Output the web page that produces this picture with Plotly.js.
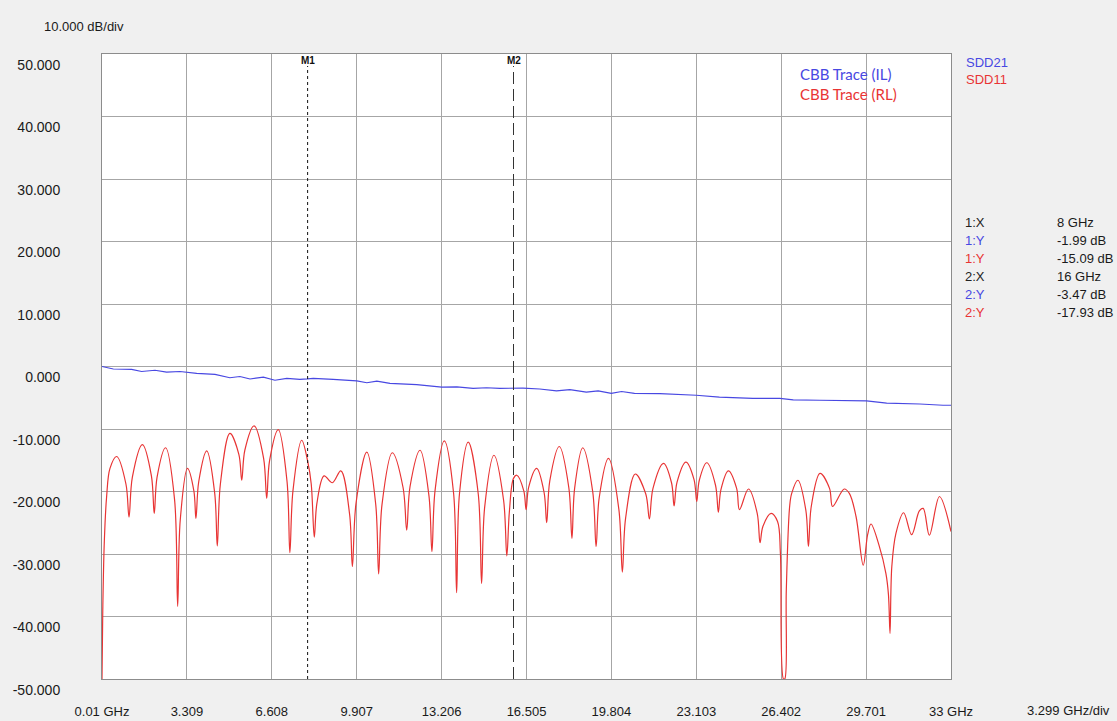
<!DOCTYPE html>
<html>
<head>
<meta charset="utf-8">
<script src="https://cdn.plot.ly/plotly-3.0.1.min.js"></script>
<style>
html,body{margin:0;padding:0;background:#f0f0f0;}
#chart{width:1117px;height:721px;}
</style>
</head>
<body>
<div id="chart"></div>
<script>
// ---- data ----
var xTickVals = [0.01, 3.309, 6.608, 9.907, 13.206, 16.505, 19.804, 23.103, 26.402, 29.701, 33];
var xTickText = ['0.01 GHz', '3.309', '6.608', '9.907', '13.206', '16.505', '19.804', '23.103', '26.402', '29.701', '33 GHz'];
var yTickVals = [50, 40, 30, 20, 10, 0, -10, -20, -30, -40, -50];
var yTickText = ['50.000', '40.000', '30.000', '20.000', '10.000', '0.000', '-10.000', '-20.000', '-30.000', '-40.000', '-50.000'];

// SDD21 (insertion loss)
var ilFreq = [0.01,0.45,1.16,1.55,2.07,2.52,3.04,3.69,4.40,4.98,5.37,5.76,6.28,6.73,7.19,7.70,8.00,8.22,8.99,9.91,10.30,10.69,11.2,12.24,13.21,13.8,14.43,14.95,15.47,16.00,16.37,17.02,17.67,18.19,18.83,19.29,19.8,20.2,20.7,21.69,22.46,23.1,24.0,25.3,26.35,26.87,27.9,28.81,29.72,30.5,31.14,31.79,32.69,33.0];
var ilDb = [0.0,-0.4,-0.45,-0.8,-0.6,-0.9,-0.8,-1.1,-1.25,-1.8,-1.6,-2.0,-1.7,-2.2,-1.9,-2.05,-1.99,-1.9,-2.05,-2.3,-2.6,-2.35,-2.7,-2.9,-3.3,-3.25,-3.5,-3.4,-3.5,-3.47,-3.45,-3.6,-3.9,-3.7,-4.1,-3.9,-4.3,-4.0,-4.3,-4.35,-4.45,-4.6,-4.9,-5.1,-5.1,-5.35,-5.4,-5.5,-5.5,-5.85,-5.9,-6.0,-6.2,-6.2];

// SDD11 (return loss)
var rlFreq = [0.01,0.04,0.10,0.19,0.32,0.58,
0.94,1.06,1.19,1.58,
1.93,2.04,2.15,2.48,
2.83,2.95,3.05,3.33,
3.58,3.66,3.77,4.08,
4.39,4.49,4.61,4.98,
5.33,5.44,5.56,5.92,
6.29,6.41,6.52,6.86,
7.20,7.31,7.43,7.77,
8.00,8.14,8.26,8.36,8.64,
8.96,9.29,
9.63,9.74,9.88,10.30,
10.645,10.76,10.89,11.29,
11.71,11.85,11.98,12.37,
12.715,12.83,12.95,13.31,
13.67,13.79,13.90,14.24,
14.63,14.76,14.88,15.24,
15.615,15.74,15.84,16.00,16.13,
16.40,16.49,16.59,16.90,
17.19,17.29,17.41,17.78,
18.15,18.27,18.375,18.69,
19.08,19.21,19.33,19.69,
20.095,20.23,20.355,20.73,
21.14,21.28,21.42,21.83,
22.14,22.24,22.355,22.70,
23.015,23.12,23.22,23.51,
23.85,23.96,24.06,24.35,
24.67,24.78,25.13,
25.47,25.58,25.69,26.01,
26.26,26.37,26.49,26.54,26.60,26.73,26.81,27.05,
27.36,27.46,27.57,27.91,
28.28,28.40,28.85,
29.05,29.31,29.59,29.76,29.89,30.21,30.47,30.57,30.63,30.70,30.86,31.16,
31.47,31.77,31.92,32.16,32.55,33.0];
var rlDb = [-50,-39,-28,-20.8,-16.3,-14.4,
-18.8,-24.1,-17.7,-12.5,
-17.5,-23.5,-17.7,-13.0,
-21.3,-38.4,-24.6,-16.3,
-19.9,-24.3,-18.4,-13.5,
-20.3,-28.7,-18.8,-10.7,
-14.1,-18.2,-13.4,-9.5,
-14.7,-21.1,-15.1,-10.1,
-18.4,-29.8,-19.9,-11.8,
-15.1,-18.8,-27.3,-21.9,-17.5,
-18.6,-16.7,
-23.6,-32.0,-21.9,-13.7,
-22.0,-33.2,-22.1,-13.8,
-19.4,-26.2,-19.2,-13.4,
-20.7,-29.6,-19.9,-11.9,
-20.2,-36.2,-20.4,-12.1,
-20.4,-34.7,-22.5,-14.2,
-21.4,-30.3,-23.2,-17.9,-17.4,
-19.9,-22.9,-19.3,-16.3,
-20.2,-25.0,-18.3,-12.8,
-19.4,-27.5,-19.5,-13.0,
-20.1,-28.8,-21.0,-14.7,
-22.9,-32.9,-24.3,-17.2,
-20.4,-24.4,-19.5,-15.5,
-18.6,-22.3,-18.5,-15.3,
-18.1,-21.6,-18.2,-15.4,
-19.0,-23.3,-19.7,-16.7,
-19.5,-22.9,-19.6,
-23.5,-28.2,-25.6,-23.5,
-24.8,-29.8,-50,-50,-35.8,-22.4,-20.3,-18.2,
-23.0,-28.8,-22.4,-17.1,
-19.5,-22.4,-19.6,
-20.3,-24.0,-31.8,-26.9,-25.2,-28.7,-33.1,-36.5,-42.7,-32.0,-26.7,-23.4,
-26.9,-23.1,-22.7,-27.0,-20.8,-26.4];

// markers
var markerNames = ['M1', 'M2'];
var markerFreq = [8, 16];
var readLabels = ['1:X', '1:Y', '1:Y', '2:X', '2:Y', '2:Y'];
var readValues = ['8 GHz', '-1.99 dB', '-15.09 dB', '16 GHz', '-3.47 dB', '-17.93 dB'];
var traceNames = ['SDD21', 'SDD11'];
var legendNames = ['CBB Trace (IL)', 'CBB Trace (RL)'];

// ---- styles / layout ----
var BLUE = 'rgb(72,72,226)';
var RED = 'rgb(232,52,52)';
var readColors = ['#222', BLUE, RED, '#222', BLUE, RED];
var L = 102, R = 951, T = 54, B = 679;
function px(x) { return (x - L) / (R - L); }
function py(y) { return (B - y) / (B - T); }
var baseFont = {family: 'Liberation Sans, Arial, sans-serif', size: 13, color: '#1a1a1a'};
var yFont = {family: 'Liberation Sans, Arial, sans-serif', size: 14, color: '#1a1a1a'};

var traces = [
  {x: ilFreq, y: ilDb, type: 'scatter', mode: 'lines', name: traceNames[0],
   line: {color: BLUE, width: 1.2}, hoverinfo: 'skip'},
  {x: rlFreq, y: rlDb, type: 'scatter', mode: 'lines', name: traceNames[1],
   line: {color: RED, width: 1.2, shape: 'spline', smoothing: 1}, hoverinfo: 'skip'}
];

var annotations = [];
annotations.push({xref: 'paper', yref: 'paper', x: px(42), y: py(26), xanchor: 'left', yanchor: 'middle',
  text: '10.000 dB/div', showarrow: false, font: baseFont});
annotations.push({xref: 'paper', yref: 'paper', x: px(1112), y: py(710), xanchor: 'right', yanchor: 'middle',
  text: '3.299 GHz/div', showarrow: false, font: baseFont});
// trace names at right
annotations.push({xref: 'paper', yref: 'paper', x: px(964), y: py(63), xanchor: 'left', yanchor: 'middle',
  text: traceNames[0], showarrow: false, font: {family: baseFont.family, size: 13, color: BLUE}});
annotations.push({xref: 'paper', yref: 'paper', x: px(964), y: py(79), xanchor: 'left', yanchor: 'middle',
  text: traceNames[1], showarrow: false, font: {family: baseFont.family, size: 13, color: RED}});
// legend inside plot
annotations.push({xref: 'paper', yref: 'paper', x: px(798), y: py(74), xanchor: 'left', yanchor: 'middle',
  text: legendNames[0], showarrow: false, font: {family: 'Lato, sans-serif', size: 15, color: BLUE}});
annotations.push({xref: 'paper', yref: 'paper', x: px(798), y: py(94), xanchor: 'left', yanchor: 'middle',
  text: legendNames[1], showarrow: false, font: {family: 'Lato, sans-serif', size: 15, color: RED}});
// readout table
for (var i = 0; i < readLabels.length; i++) {
  var yy = 223 + i * 17.9;
  annotations.push({xref: 'paper', yref: 'paper', x: px(963), y: py(yy), xanchor: 'left', yanchor: 'middle',
    text: readLabels[i], showarrow: false, font: {family: baseFont.family, size: 13, color: readColors[i]}});
  annotations.push({xref: 'paper', yref: 'paper', x: px(1055), y: py(yy), xanchor: 'left', yanchor: 'middle',
    text: readValues[i], showarrow: false, font: {family: baseFont.family, size: 13, color: '#1a1a1a'}});
}
// marker labels
var shapes = [];
var markerDash = ['dot', '12px,5px'];
var markerColor = ['#111', '#333'];
for (var m = 0; m < markerNames.length; m++) {
  annotations.push({xref: 'x', yref: 'paper', x: markerFreq[m], y: py(61), xanchor: 'center', yanchor: 'middle',
    text: '<b>' + markerNames[m] + '</b>', showarrow: false,
    font: {family: baseFont.family, size: 10, color: '#111'}});
  shapes.push({type: 'line', xref: 'x', yref: 'paper', x0: markerFreq[m], x1: markerFreq[m],
    y0: 0, y1: py(66), line: {color: markerColor[m], width: 1, dash: markerDash[m]}});
}

var layout = {
  width: 1117, height: 721,
  margin: {l: L, r: 1117 - R, t: T, b: 721 - B, pad: 0},
  paper_bgcolor: '#f0f0f0',
  plot_bgcolor: '#ffffff',
  showlegend: false,
  xaxis: {
    range: [0.01, 33], tickvals: xTickVals, ticktext: xTickText,
    showgrid: true, gridcolor: '#a6a6a6', gridwidth: 1, zeroline: false,
    showline: true, mirror: true, linecolor: '#8c8c8c', linewidth: 1,
    ticks: '', tickfont: baseFont, ticklabelstandoff: 20, fixedrange: true
  },
  yaxis: {
    range: [-50, 50], tickvals: yTickVals, ticktext: yTickText,
    showgrid: true, gridcolor: '#a6a6a6', gridwidth: 1, zeroline: false,
    showline: true, mirror: true, linecolor: '#8c8c8c', linewidth: 1,
    ticks: '', tickfont: yFont, ticklabelstandoff: 38, ticklabelshift: 11, fixedrange: true
  },
  annotations: annotations,
  shapes: shapes
};

Plotly.newPlot('chart', traces, layout, {displayModeBar: false, staticPlot: true});
</script>
</body>
</html>
